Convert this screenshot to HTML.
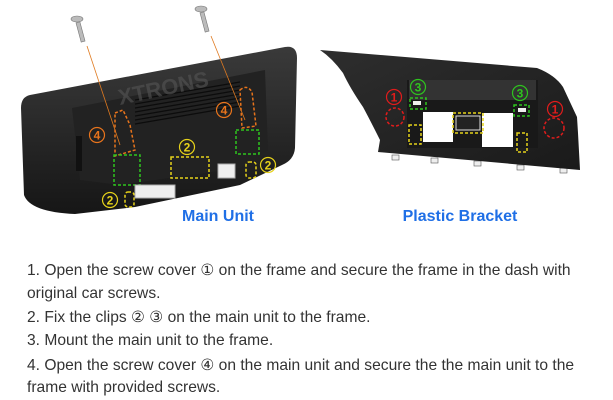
<!DOCTYPE html>
<html><head><meta charset="utf-8"><style>
html,body{margin:0;padding:0;background:#fff;width:613px;height:400px;overflow:hidden}
.t{position:absolute;left:27px;font-family:"Liberation Sans",sans-serif;font-size:15.6px;color:#333;white-space:nowrap;letter-spacing:0}
</style></head><body>
<svg width="613" height="400" style="position:absolute;left:0;top:0" font-family="Liberation Sans, sans-serif">
<defs>
<linearGradient id="g1" x1="0" y1="0" x2="0" y2="1"><stop offset="0" stop-color="#3a3a3a"/><stop offset="1" stop-color="#161616"/></linearGradient>
<linearGradient id="g2" x1="0" y1="0" x2="1" y2="1"><stop offset="0" stop-color="#2e2e2e"/><stop offset="1" stop-color="#1a1a1a"/></linearGradient>
</defs>
<path d="M30,95 L285,47 Q297,45 297,58 L295,148 Q294,160 282,165 L240,185 L135,207 L75,214 Q30,212 24,195 L21,108 Q21,97 30,95 Z" fill="url(#g1)"/>
<path d="M72,108 L265,70 L268,150 L240,168 L120,185 L80,180 Z" fill="#222"/>
<g stroke="#0c0c0c" stroke-width="1.2">
<line x1="135" y1="100" x2="240" y2="82"/><line x1="135" y1="104" x2="240" y2="86"/><line x1="135" y1="108" x2="240" y2="90"/><line x1="135" y1="112" x2="240" y2="94"/><line x1="135" y1="116" x2="240" y2="98"/><line x1="135" y1="120" x2="240" y2="102"/><line x1="135" y1="124" x2="240" y2="106"/>
</g>
<text x="120" y="105" fill="#555" font-size="22" font-weight="bold" transform="rotate(-12 120 105)" opacity="0.6">XTRONS</text>
<rect x="76" y="136" width="6" height="35" fill="#111"/>
<g fill="#bbb" stroke="#777" stroke-width="0.6">
<rect x="78" y="22" width="4" height="20" transform="rotate(-15 80 30)"/>
<ellipse cx="77" cy="19" rx="6" ry="3"/>
<rect x="202" y="12" width="4" height="20" transform="rotate(-15 204 20)"/>
<ellipse cx="201" cy="9" rx="6" ry="3"/>
</g>
<line x1="87" y1="46" x2="120" y2="145" stroke="#e07a20" stroke-width="0.8"/>
<line x1="211" y1="36" x2="245" y2="120" stroke="#e07a20" stroke-width="0.8"/>
<g fill="none" stroke-dasharray="3,2" stroke-width="1.5">
<path d="M115,113 L123,110 L130,125 L135,150 L115,156 Z" stroke="#e8741c"/>
<path d="M240,90 Q247,84 252,92 L256,126 L242,128 Z" stroke="#e8741c"/>
<rect x="114" y="155" width="26" height="30" stroke="#2ec41e"/>
<rect x="236" y="130" width="23" height="24" stroke="#2ec41e"/>
<rect x="171" y="157" width="38" height="21" stroke="#e6d21a"/>
<rect x="246" y="162" width="10" height="16" rx="3" stroke="#e6d21a"/>
<rect x="125" y="192" width="9" height="15" rx="3" stroke="#e6d21a"/>
</g>
<rect x="135" y="185" width="40" height="13" fill="#eee" stroke="#aaa"/>
<rect x="218" y="164" width="17" height="14" fill="#eee" stroke="#aaa"/>
<g font-size="12" font-weight="bold" text-anchor="middle">
<circle cx="97" cy="135" r="7.5" fill="none" stroke="#e8741c" stroke-width="1.2"/><text x="97" y="139.5" fill="#e8741c">4</text>
<circle cx="224" cy="110" r="7.5" fill="none" stroke="#e8741c" stroke-width="1.2"/><text x="224" y="114.5" fill="#e8741c">4</text>
<circle cx="187" cy="147" r="7.5" fill="none" stroke="#e6d21a" stroke-width="1.2"/><text x="187" y="151.5" fill="#e6d21a">2</text>
<circle cx="268" cy="165" r="7.5" fill="none" stroke="#e6d21a" stroke-width="1.2"/><text x="268" y="169.5" fill="#e6d21a">2</text>
<circle cx="110" cy="200" r="7.5" fill="none" stroke="#e6d21a" stroke-width="1.2"/><text x="110" y="204.5" fill="#e6d21a">2</text>
</g>
<g fill="#eee" stroke="#555" stroke-width="0.6">
<rect x="392" y="155" width="7" height="5"/><rect x="431" y="158" width="7" height="5"/><rect x="474" y="161" width="7" height="5"/><rect x="517" y="165" width="7" height="5"/><rect x="560" y="168" width="7" height="5"/>
</g>
<path d="M320,50 L537,68 Q555,75 563,87 L577,117 L578,133 L580,170 L378,152 L380,140 Q370,120 363,107 Q350,88 343,73 Q332,58 320,50 Z" fill="url(#g2)"/>
<rect x="407" y="80" width="131" height="68" fill="#191919"/>
<rect x="409" y="80" width="127" height="20" fill="#333"/>
<rect x="423" y="112" width="30" height="30" fill="#fff"/>
<rect x="482" y="113" width="31" height="34" fill="#fff"/>
<rect x="456" y="116" width="24" height="14" fill="#222" stroke="#ddd"/>
<g fill="none" stroke-dasharray="3,2" stroke-width="1.5">
<circle cx="395" cy="117" r="9" stroke="#e01c1c"/>
<circle cx="554" cy="128" r="10" stroke="#e01c1c"/>
<rect x="410" y="98" width="16" height="11" stroke="#2ec41e"/>
<rect x="514" y="105" width="15" height="11" stroke="#2ec41e"/>
<rect x="409" y="125" width="12" height="19" stroke="#e6d21a"/>
<rect x="453" y="113" width="30" height="20" stroke="#e6d21a"/>
<rect x="517" y="133" width="10" height="19" stroke="#e6d21a"/>
</g>
<rect x="413" y="101" width="8" height="4" fill="#eee"/><rect x="518" y="108" width="8" height="4" fill="#eee"/>
<g font-size="12" font-weight="bold" text-anchor="middle">
<circle cx="394" cy="97" r="7.5" fill="none" stroke="#e01c1c" stroke-width="1.2"/><text x="394" y="101.5" fill="#e01c1c">1</text>
<circle cx="555" cy="109" r="7.5" fill="none" stroke="#e01c1c" stroke-width="1.2"/><text x="555" y="113.5" fill="#e01c1c">1</text>
<circle cx="418" cy="87" r="7.5" fill="none" stroke="#2ec41e" stroke-width="1.2"/><text x="418" y="91.5" fill="#2ec41e">3</text>
<circle cx="520" cy="93" r="7.5" fill="none" stroke="#2ec41e" stroke-width="1.2"/><text x="520" y="97.5" fill="#2ec41e">3</text>
</g>
<text x="218" y="221" text-anchor="middle" font-size="16" font-weight="bold" fill="#1f6fe6">Main Unit</text>
<text x="460" y="221" text-anchor="middle" font-size="16" font-weight="bold" fill="#1f6fe6">Plastic Bracket</text>
</svg>
<div class="t" style="top:261px">1. Open the screw cover ① on the frame and secure the frame in the dash with</div>
<div class="t" style="top:285px">original car screws.</div>
<div class="t" style="top:308px">2. Fix the clips ② ③ on the main unit to the frame.</div>
<div class="t" style="top:332px">3. Mount the main unit to the frame.</div>
<div class="t" style="top:356px">4. Open the screw cover ④ on the main unit and secure the the main unit to the</div>
<div class="t" style="top:379px">frame with provided screws.</div>
</body></html>
